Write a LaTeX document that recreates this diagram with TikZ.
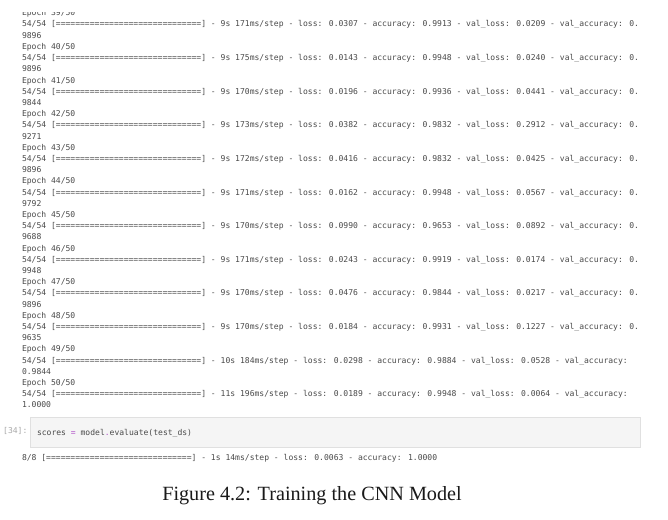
\documentclass[tikz,border=0pt]{standalone}
\usepackage{fontspec}
\setmainfont{Liberation Serif}
\newfontfamily\monofont{DejaVu Sans Mono}
\definecolor{outtext}{HTML}{4A4A4A}
\definecolor{prompt}{HTML}{A8A8A8}
\definecolor{cellfill}{HTML}{F5F5F5}
\definecolor{cellline}{HTML}{E0E0E0}
\definecolor{opcol}{HTML}{B050C8}
\tikzset{
  outline/.style={anchor=base west, inner sep=0pt, outer sep=0pt, text=outtext,
    font=\monofont\fontsize{8.05}{11.2}\selectfont},
  promptstyle/.style={anchor=base west, inner sep=0pt, text=prompt,
    font=\monofont\fontsize{8.05}{11.2}\selectfont},
  cellbox/.style={fill=cellfill, draw=cellline, line width=0.8pt},
  captionstyle/.style={anchor=base, inner sep=0pt, text=black!90,
    font=\fontsize{20.2}{24}\selectfont}
}
\newcommand{\pbar}{[==============================]}
\newcommand{\orow}[3]{\node[outline] (#1) at (22,{12.8+11.2*#2+3}) {#3};}
\begin{document}
\begin{tikzpicture}[x=1pt,y=-1pt]
\useasboundingbox (0,0) rectangle (668,519);
\clip (0,0) rectangle (668,519);
\fill[white] (0,0) rectangle (668,519);
\begin{scope}
\clip (0,13) rectangle (668,20);
\orow{e39}{0}{Epoch 39/50}
\end{scope}
\orow{r39}{1}{54/54 \pbar{} - 9s 171ms/step - loss: 0.0307 - accuracy: 0.9913 - val\_loss: 0.0209 - val\_accuracy: 0.}
\orow{v39}{2}{9896}
\orow{e40}{3}{Epoch 40/50}
\orow{r40}{4}{54/54 \pbar{} - 9s 175ms/step - loss: 0.0143 - accuracy: 0.9948 - val\_loss: 0.0240 - val\_accuracy: 0.}
\orow{v40}{5}{9896}
\orow{e41}{6}{Epoch 41/50}
\orow{r41}{7}{54/54 \pbar{} - 9s 170ms/step - loss: 0.0196 - accuracy: 0.9936 - val\_loss: 0.0441 - val\_accuracy: 0.}
\orow{v41}{8}{9844}
\orow{e42}{9}{Epoch 42/50}
\orow{r42}{10}{54/54 \pbar{} - 9s 173ms/step - loss: 0.0382 - accuracy: 0.9832 - val\_loss: 0.2912 - val\_accuracy: 0.}
\orow{v42}{11}{9271}
\orow{e43}{12}{Epoch 43/50}
\orow{r43}{13}{54/54 \pbar{} - 9s 172ms/step - loss: 0.0416 - accuracy: 0.9832 - val\_loss: 0.0425 - val\_accuracy: 0.}
\orow{v43}{14}{9896}
\orow{e44}{15}{Epoch 44/50}
\orow{r44}{16}{54/54 \pbar{} - 9s 171ms/step - loss: 0.0162 - accuracy: 0.9948 - val\_loss: 0.0567 - val\_accuracy: 0.}
\orow{v44}{17}{9792}
\orow{e45}{18}{Epoch 45/50}
\orow{r45}{19}{54/54 \pbar{} - 9s 170ms/step - loss: 0.0990 - accuracy: 0.9653 - val\_loss: 0.0892 - val\_accuracy: 0.}
\orow{v45}{20}{9688}
\orow{e46}{21}{Epoch 46/50}
\orow{r46}{22}{54/54 \pbar{} - 9s 171ms/step - loss: 0.0243 - accuracy: 0.9919 - val\_loss: 0.0174 - val\_accuracy: 0.}
\orow{v46}{23}{9948}
\orow{e47}{24}{Epoch 47/50}
\orow{r47}{25}{54/54 \pbar{} - 9s 170ms/step - loss: 0.0476 - accuracy: 0.9844 - val\_loss: 0.0217 - val\_accuracy: 0.}
\orow{v47}{26}{9896}
\orow{e48}{27}{Epoch 48/50}
\orow{r48}{28}{54/54 \pbar{} - 9s 170ms/step - loss: 0.0184 - accuracy: 0.9931 - val\_loss: 0.1227 - val\_accuracy: 0.}
\orow{v48}{29}{9635}
\orow{e49}{30}{Epoch 49/50}
\orow{r49}{31}{54/54 \pbar{} - 10s 184ms/step - loss: 0.0298 - accuracy: 0.9884 - val\_loss: 0.0528 - val\_accuracy:}
\orow{v49}{32}{0.9844}
\orow{e50}{33}{Epoch 50/50}
\orow{r50}{34}{54/54 \pbar{} - 11s 196ms/step - loss: 0.0189 - accuracy: 0.9948 - val\_loss: 0.0064 - val\_accuracy:}
\orow{v50}{35}{1.0000}
% code cell
\path[cellbox] (30,417) rectangle (640,447);
\node[promptstyle] (prompt) at (3,433) {[34]:};
\node[outline] (code) at (37,435) {scores \textcolor{opcol}{=} model\textcolor{opcol}{.}evaluate(test\_ds)};
\node[outline] (evalrow) at (22,460) {8/8 \pbar{} - 1s 14ms/step - loss: 0.0063 - accuracy: 1.0000};
% caption
\node[captionstyle] (caption) at (312,500) {Figure 4.2: Training the CNN Model};
\end{tikzpicture}
\end{document}
